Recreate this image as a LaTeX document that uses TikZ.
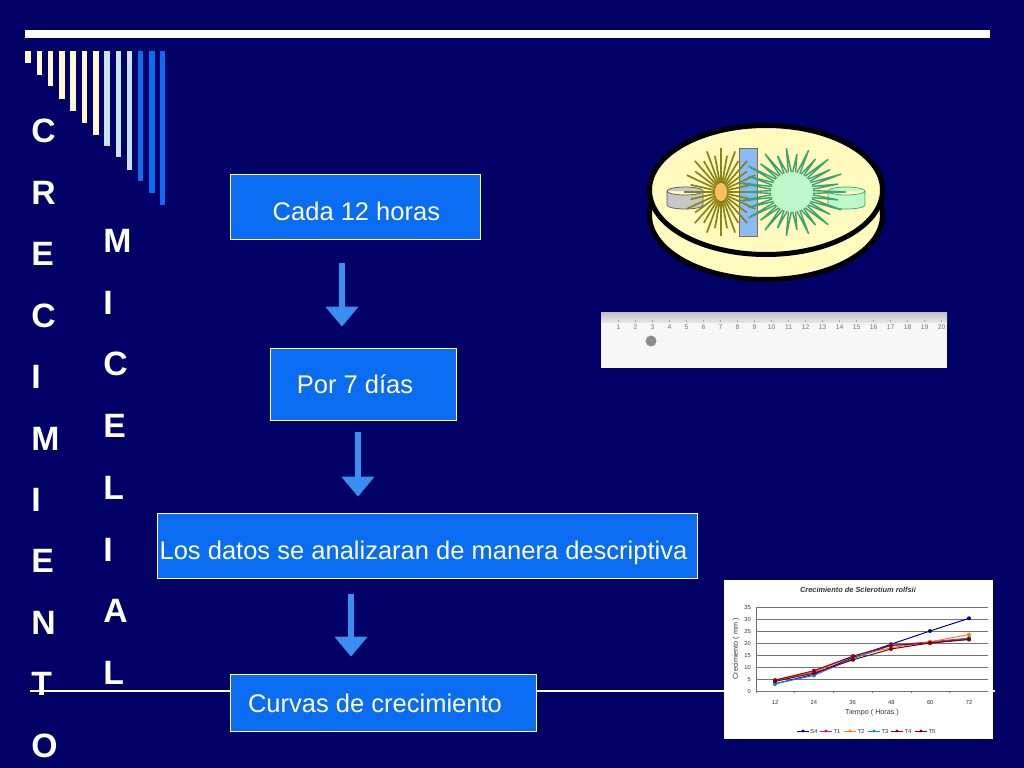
\documentclass[tikz,border=0pt]{standalone}
\usepackage{fontspec}
\setmainfont{Liberation Sans}
\usepackage{xcolor}
\usetikzlibrary{arrows.meta,calc}

\definecolor{slidebg}{HTML}{000066}
\definecolor{boxblue}{HTML}{0A6CF0}
\definecolor{arrowblue}{HTML}{3A8EF0}
\definecolor{barcream}{HTML}{FFF8D2}
\definecolor{barsky}{HTML}{C8E4F8}
\definecolor{dishcream}{HTML}{FFFBBE}
\definecolor{hyphaolive}{HTML}{8A8214}
\definecolor{hyphagreen}{HTML}{3FA070}
\definecolor{palegreen}{HTML}{BFF8C8}
\definecolor{coreorange}{HTML}{F8C060}

% text of a box: kern at its end, drop of the baseline
\newcommand{\boxtext}[3]{\raisebox{-#2}[0pt][0pt]{#3}\kern#1}

\tikzset{
	flowbox/.style = {draw = white, line width = 0.5pt, fill = boxblue, text = white, font = \fontsize{18.15}{20}\selectfont, inner sep = 0pt},
	flowarrow/.style = {draw = arrowblue, line width = 0.16cm, -{Triangle[width = 0.8cm, length = 0.5cm]}},
	bigletter/.style = {anchor = base west, inner sep = 0pt, text = white, font = \fontsize{24}{25}\selectfont\bfseries},
	rulernum/.style = {anchor = base, inner sep = 0pt, text = black!55, font = \fontsize{4.8}{5}\selectfont},
	chartnum/.style = {anchor = base, inner sep = 0pt, text = black!80, font = \fontsize{4.1}{5}\selectfont},
	chartlabel/.style = {inner sep = 0pt, text = black!80, font = \fontsize{5.1}{6}\selectfont},
}

\begin{document}
\begin{tikzpicture}[x = 0.025cm, y = -0.025cm]
	\fill[slidebg] (0,0) rectangle (1024,768);
	\useasboundingbox (0,0) rectangle (1024,768);
	
	% top rule and hanging bars
	\fill[white] (25,30) rectangle (990,38);
	\foreach \barx/\bary/\barcol in {28/63/barcream, 39.5/75/barcream, 50.5/86/barcream, 62/99/barcream, 73/111/barcream, 84.5/123/barcream, 96/135/barcream, 107/146/barsky, 118.5/157/barsky, 129.5/170/barsky, 140.5/181/boxblue, 152/193/boxblue, 162.5/205/boxblue}
		\fill[\barcol] (\barx-2.6,51) rectangle (\barx+2.6,\bary);
	
	% side titles
	\foreach \ch [count = \i from 0] in {C,R,E,C,I,M,I,E,N,T,O}
		\node[bigletter] (crec\i) at (31,{143+61.4*\i}) {\ch};
	\foreach \ch [count = \i from 0] in {M,I,C,E,L,I,A,L}
		\node[bigletter] (mic\i) at (103,{252.5+61.7*\i}) {\ch};
	
	\draw[white, line width = 0.8pt] (30,691) -- (995,691);
	
	% flow
	\node[flowbox, minimum width = 6.25cm, minimum height = 1.625cm] (cada) at (355,206.5) {\boxtext{-2pt}{10pt}{Cada 12 horas}};
	\node[flowbox, minimum width = 4.65cm, minimum height = 1.8cm] (por) at (363,384) {\boxtext{11.4pt}{6.8pt}{Por 7 días}};
	\node[flowbox, minimum width = 13.5cm, minimum height = 1.625cm] (datos) at (427,545.5) {\boxtext{5pt}{10pt}{Los datos se analizaran de manera descriptiva}};
	\node[flowbox, minimum width = 7.65cm, minimum height = 1.425cm] (curvas) at (383,702.5) {\boxtext{11.4pt}{7.1pt}{Curvas de crecimiento}};
	
	\draw[flowarrow] ($(cada.south)+(-13,24)$) -- ($(por.north)+(-21,-21)$);
	\draw[flowarrow] ($(por.south)+(-5,12)$) -- ($(datos.north)+(-69,-16)$);
	\draw[flowarrow] ($(datos.south)+(-76,16)$) -- ($(curvas.north)+(-32,-17)$);
	
	% petri dish
	\draw[fill = dishcream, line width = 0.125cm] (766,215) ellipse [x radius = 116.5, y radius = 64.5];
	\draw[fill = dishcream, line width = 0.125cm] (766,190) ellipse [x radius = 116.5, y radius = 64.5];
	
	\draw[fill = black!22, draw = black!65, line width = 0.5pt] (667,191) -- (667,205) arc [start angle = 180, end angle = 0, x radius = 18, y radius = 4] -- (703,191) arc [start angle = 0, end angle = 360, x radius = 18, y radius = 4];
	\draw[fill = palegreen, draw = hyphagreen, line width = 0.5pt] (828,191) -- (828,205) arc [start angle = 180, end angle = 0, x radius = 18.5, y radius = 4] -- (865,191) arc [start angle = 0, end angle = 360, x radius = 18.5, y radius = 4];
	
	\draw[fill = arrowblue!60, draw = brown!80!black, line width = 0.7pt] (739,148) rectangle (757,236);
	
	\foreach \a [count = \i] in {0,11.25,...,349}
		\draw[hyphaolive, line width = 1.2pt] ({721+5*cos(\a)},{192+8*sin(\a)}) -- ({721+(isodd(\i) ? 37 : 31)*cos(\a)},{192+(isodd(\i) ? 44 : 37)*sin(\a)});
	\fill[coreorange] (721,192) ellipse [x radius = 6, y radius = 9];
	
	\fill[palegreen] (792,192) ellipse [x radius = 22, y radius = 20];
	\foreach \a [count = \i] in {0,12,...,348}
		\draw[hyphagreen, line width = 1pt] ({792+21*cos(\a-4)},{192+20*sin(\a-4)}) -- ({792+(isodd(\i) ? 54 : 47)*cos(\a)},{192+(isodd(\i) ? 44 : 38)*sin(\a)}) -- ({792+21*cos(\a+4)},{192+20*sin(\a+4)});
	
	% ruler
	\fill[black!3] (601,312) rectangle (947,368);
	\shade[top color = black!25, bottom color = black!10] (601,312) rectangle (947,322);
	\foreach \n in {1,...,20} {
		\node[rulernum] (tick\n) at ({601.5+17*\n},329) {\n};
		\draw[black!35, line width = 0.3pt] ({601.5+17*\n},320) -- ({601.5+17*\n},322);
	}
	\fill[black!45] (651,341) circle (5.5);
	
	% chart
	\fill[white] (724,580) rectangle (993,739);
	\node[chartlabel] (charttitle) at (858,590) {\bfseries\itshape\fontsize{5.25}{6}\selectfont Crecimiento de Sclerotium rolfsii};
	\foreach \v in {0,5,...,35} {
		\draw[black!55, line width = 0.6pt] (756,{691-2.4*\v}) -- (988,{691-2.4*\v});
		\node[chartnum, anchor = base east] (val\v) at (751,{693-2.4*\v}) {\v};
	}
	\draw[black!55, line width = 0.4pt] (756,607) -- (756,691);
	\foreach \h [count = \i from 0] in {12,24,36,48,60,72} {
		\draw[black!55, line width = 0.4pt] ({756+38.7*\i},691) -- ({756+38.7*\i},693);
		\node[chartnum] (hour\h) at ({775+38.8*\i},704) {\h};
	}
	\node[chartlabel, rotate = 90] (ylabel) at (736,649) {Crecimiento ( mm )};
	\node[chartlabel] (xlabel) at (872,713) {Tiempo ( Horas )};
	
	\foreach \sname/\scol/\sx/\ya/\yb/\yc/\yd/\ye/\yf in {
		S4/blue!60!black/814/3/7/14/19.5/25/30.3,
		T1/magenta/837/4.5/8/14.5/19/20.5/22,
		T2/orange/861/4/8/14.5/18/20.5/23.5,
		T3/cyan!70!blue/885/3/6.5/13.5/19/20/22,
		T4/purple!70!black/908/4.5/8.5/14.5/19/20/21.5,
		T5/red!50!black/932/4/7.5/13/17.5/20/21.5} {
		\draw[\scol, line width = 0.7pt] (775,{691-2.4*\ya}) -- (814,{691-2.4*\yb}) -- (853,{691-2.4*\yc}) -- (891,{691-2.4*\yd}) -- (930,{691-2.4*\ye}) -- (969,{691-2.4*\yf});
		\foreach \mx/\my in {775/\ya, 814/\yb, 853/\yc, 891/\yd, 930/\ye, 969/\yf}
			\fill[\scol] (\mx,{691-2.4*\my}) circle (2);
		\draw[\scol, line width = 0.5pt] (\sx-17,731) -- (\sx-5,731);
		\fill[\scol] (\sx-11,731) circle (1.7);
		\node[chartnum] (legend\sname) at (\sx,733) {\sname};
	}
\end{tikzpicture}
\end{document}
